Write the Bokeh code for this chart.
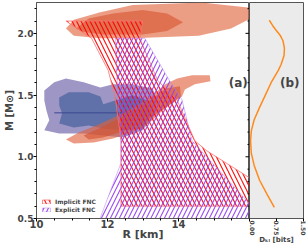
import math
from bokeh.plotting import figure
from bokeh.layouts import row
from bokeh.models import (FixedTicker, Legend, LegendItem, Label,
                          NumeralTickFormatter, Range1d)
from bokeh.embed import file_html
from bokeh.resources import INLINE

# ---------------- data ----------------
# Implicit FNC band (R [km], M [Msun])
implicit_r = [10.83, 12.99, 12.91, 13.41, 13.96, 14.46, 14.79, 16.0, 16.0, 12.38, 12.38, 12.22, 12.02, 11.55]
implicit_m = [2.10, 2.10, 1.96, 1.62, 1.46, 1.13, 1.05, 0.83, 0.60, 0.60, 1.13, 1.48, 1.70, 1.96]
# Explicit FNC band
explicit_r = [12.22, 13.05, 13.74, 14.10, 14.38, 16.0, 16.0, 11.79, 12.38, 12.38, 12.25]
explicit_m = [1.96, 1.96, 1.62, 1.46, 1.13, 0.62, 0.50, 0.50, 0.95, 1.13, 1.70]

# J0740 credible regions (outer / inner)
j0740_outer_r = [10.83, 11.05, 11.80, 12.71, 14.65, 15.96, 16.05, 15.96, 15.48, 14.57, 12.71, 11.80, 11.05]
j0740_outer_m = [2.04, 2.11, 2.17, 2.23, 2.25, 2.21, 2.16, 2.11, 2.04, 1.98, 1.96, 1.96, 1.98]
j0740_inner_r = [11.11, 11.47, 12.16, 12.99, 13.68, 14.13, 13.68, 12.99, 11.88, 11.33]
j0740_inner_m = [2.04, 2.12, 2.16, 2.19, 2.16, 2.09, 2.02, 1.99, 1.99, 2.01]

# J0030 (blue) credible regions
blue_outer_r = [10.22, 10.50, 10.83, 11.33, 11.80, 12.16, 12.71, 13.27, 13.41, 13.32, 12.99, 12.44,
                11.88, 11.33, 10.64, 10.22, 10.36, 10.28, 10.22]
blue_outer_m = [1.538, 1.603, 1.635, 1.603, 1.562, 1.587, 1.587, 1.554, 1.457, 1.335, 1.214, 1.157,
                1.173, 1.189, 1.189, 1.214, 1.295, 1.376, 1.457]
blue_inner_r = [10.64, 10.91, 11.47, 11.80, 11.88, 12.22, 12.71, 13.13, 13.21, 12.99, 12.44, 11.88,
                11.47, 11.05, 10.64, 10.72, 10.64]
blue_inner_m = [1.481, 1.522, 1.522, 1.489, 1.425, 1.457, 1.498, 1.457, 1.335, 1.230, 1.214, 1.230,
                1.254, 1.238, 1.270, 1.352, 1.416]
blue_line_r = [10.50, 13.20]
blue_line_m = [1.356, 1.356]

# J0030 (red) credible regions
red_outer_r = [10.83, 11.19, 11.75, 12.30, 12.85, 13.27, 13.63, 13.96, 14.38, 14.88, 14.90, 14.46,
               14.18, 14.10, 13.82, 13.55, 13.27, 12.99, 12.58, 12.16, 11.61, 11.05]
red_outer_m = [1.141, 1.197, 1.262, 1.335, 1.416, 1.498, 1.587, 1.635, 1.660, 1.660, 1.611, 1.587,
               1.546, 1.489, 1.433, 1.376, 1.295, 1.238, 1.189, 1.149, 1.116, 1.108]
red_inner_r = [11.33, 11.88, 12.38, 12.85, 13.27, 13.63, 14.04, 14.07, 13.77, 13.41, 12.99, 12.44, 11.88, 11.47]
red_inner_m = [1.173, 1.246, 1.319, 1.392, 1.473, 1.554, 1.571, 1.489, 1.425, 1.352, 1.279, 1.206, 1.157, 1.141]

# panel (b): KL divergence vs mass
dkl_m = [2.106, 2.06, 2.025, 1.98, 1.94, 1.88, 1.82, 1.75, 1.70, 1.60, 1.50, 1.40, 1.30, 1.21,
         1.13, 1.03, 0.93, 0.81, 0.69, 0.59]
dkl_v = [0.55, 0.65, 0.74, 0.86, 0.93, 0.97, 0.96, 0.88, 0.80, 0.60, 0.44, 0.28, 0.13, 0.05,
         0.03, 0.05, 0.13, 0.28, 0.50, 0.69]

r_major = [10, 12, 14]
r_minor = [10.5, 11, 11.5, 12.5, 13, 13.5, 14.5, 15, 15.5, 16]
m_major = [0.5, 1.0, 1.5, 2.0]
m_minor = [0.6, 0.7, 0.8, 0.9, 1.1, 1.2, 1.3, 1.4, 1.6, 1.7, 1.8, 1.9, 2.1, 2.2]
dkl_ticks = [0.0, 0.75, 1.5]
R_MAX = 16.0

FONT = "DejaVu Sans"
FRAME = "#555555"
H = 248

# ---------------- panel (a) ----------------
p1 = figure(width=249, height=H, x_range=Range1d(10, R_MAX), y_range=Range1d(0.5, 2.25),
            output_backend="svg", toolbar_location=None,
            min_border_left=32, min_border_right=0, min_border_top=2, min_border_bottom=30)
p1.grid.visible = False
p1.outline_line_color = FRAME
p1.outline_line_width = 1

p1.patch(blue_outer_r, blue_outer_m, fill_color="#6a60a8", fill_alpha=0.65, line_color=None)
p1.patch(blue_inner_r, blue_inner_m, fill_color="#3e5c98", fill_alpha=0.65, line_color=None)
p1.line(blue_line_r, blue_line_m, line_color="#3a4690", line_width=1)
p1.patch(red_outer_r, red_outer_m, fill_color="#e0603a", fill_alpha=0.62, line_color=None)
p1.patch(red_inner_r, red_inner_m, fill_color="#d4502e", fill_alpha=0.62, line_color=None)
p1.patch(j0740_outer_r, j0740_outer_m, fill_color="#e26a44", fill_alpha=0.65, line_color=None)
p1.patch(j0740_inner_r, j0740_inner_m, fill_color="#d65430", fill_alpha=0.62, line_color=None)

r_imp = p1.patch(implicit_r, implicit_m, fill_alpha=0, hatch_pattern="\\", hatch_color="#ff0000",
                 hatch_scale=9, hatch_weight=1.1, hatch_alpha=0.95,
                 line_color="#ff7070", line_width=1, line_alpha=0.8)
r_exp = p1.patch(explicit_r, explicit_m, fill_alpha=0, hatch_pattern="/", hatch_color="#9540f0",
                 hatch_scale=9, hatch_weight=1.1, hatch_alpha=0.95,
                 line_color="#b080f0", line_width=1, line_alpha=0.5)

# inward ticks on the shared edge between the panels (right side of panel a)
p1.ray(x=[R_MAX] * len(m_major), y=m_major, length=4, length_units="screen",
       angle=math.pi, line_color="black", line_width=1)
p1.ray(x=[R_MAX] * len(m_minor), y=m_minor, length=2, length_units="screen",
       angle=math.pi, line_color="black", line_width=1)

xa = p1.xaxis[0]
xa.ticker = FixedTicker(ticks=r_major, minor_ticks=r_minor)
ya = p1.yaxis[0]
ya.ticker = FixedTicker(ticks=m_major, minor_ticks=m_minor)
ya.formatter = NumeralTickFormatter(format="0.0")
for ax in (xa, ya):
    ax.major_tick_in = 0
    ax.major_tick_out = 3
    ax.minor_tick_in = 0
    ax.minor_tick_out = 2
    ax.major_tick_line_color = "black"
    ax.minor_tick_line_color = "black"
    ax.axis_line_color = FRAME
    ax.major_label_text_font = FONT
    ax.major_label_text_font_style = "bold"
    ax.major_label_text_font_size = "10px"
    ax.major_label_standoff = 0
    ax.axis_label_text_font = FONT
    ax.axis_label_text_font_style = "bold"
    ax.axis_label_text_font_size = "10px"
    ax.axis_label_standoff = 0
xa.axis_label = "R [km]"
xa.axis_label_text_font_size = "11px"
xa.major_label_standoff = -2
xa.axis_label_standoff = -3
ya.axis_label = "M [M⊙]"
ya.major_label_text_font_size = "9px"
ya.major_label_orientation = "horizontal"

legend = Legend(items=[LegendItem(label="Implicit FNC", renderers=[r_imp]),
                       LegendItem(label="Explicit FNC", renderers=[r_exp])],
                location="bottom_left", margin=3, padding=2, spacing=1,
                glyph_width=10, glyph_height=5, label_height=6, label_standoff=4,
                label_text_font=FONT, label_text_font_style="bold", label_text_font_size="6px",
                border_line_alpha=0, background_fill_alpha=0)
p1.add_layout(legend)

p1.add_layout(Label(x=15.95, y=1.6, text="(a)", text_align="right", text_baseline="middle",
                    text_font=FONT, text_font_style="bold", text_font_size="12px"))

# ---------------- panel (b) ----------------
p2 = figure(width=57, height=H, x_range=Range1d(0, 1.5), y_range=p1.y_range,
            output_backend="svg", toolbar_location=None, y_axis_location=None,
            min_border_left=0, min_border_right=3, min_border_top=2, min_border_bottom=30)
p2.grid.visible = False
p2.background_fill_color = "#ebebeb"
p2.outline_line_color = FRAME
p2.line(dkl_v, dkl_m, line_color="#ff8a1c", line_width=1.5)
p2.add_layout(Label(x=1.12, y=1.6, text="(b)", text_align="center", text_baseline="middle",
                    text_font=FONT, text_font_style="bold", text_font_size="12px"))
bx = p2.xaxis[0]
bx.ticker = FixedTicker(ticks=dkl_ticks)
bx.formatter = NumeralTickFormatter(format="0.00")
bx.major_label_orientation = -math.pi / 2
bx.major_tick_in = 0
bx.major_tick_out = 3
bx.axis_line_color = FRAME
bx.major_label_text_font = FONT
bx.major_label_text_font_style = "bold"
bx.major_label_text_font_size = "6px"
bx.major_label_standoff = -1
bx.axis_label = "Dₖₗ [bits]"
bx.axis_label_text_font = FONT
bx.axis_label_text_font_style = "bold"
bx.axis_label_text_font_size = "7px"
bx.axis_label_standoff = -2

layout = row(p1, p2)
open("out.html", "w").write(file_html(layout, INLINE))
